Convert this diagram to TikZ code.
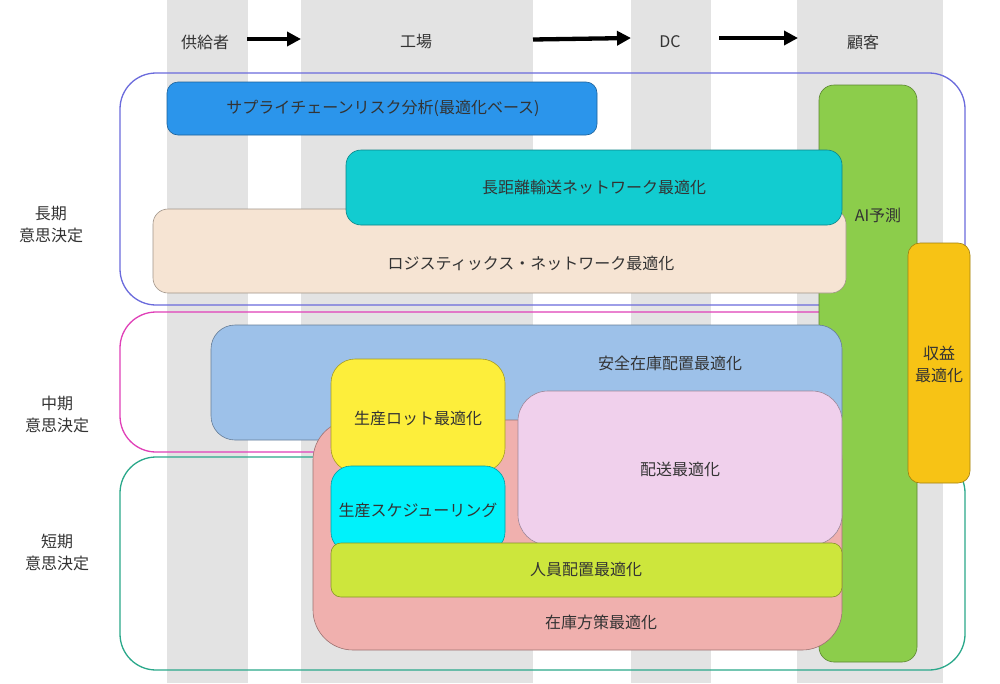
\documentclass[tikz,border=0pt]{standalone}
\usepackage{fontspec}
\setmainfont{Noto Sans CJK JP}
\usetikzlibrary{arrows.meta}
\definecolor{stripegray}{HTML}{E3E3E3}
\definecolor{txt}{HTML}{333333}
\definecolor{longc}{HTML}{6B6BDC}
\definecolor{midc}{HTML}{E040B8}
\definecolor{shortc}{HTML}{2AA88A}
\definecolor{scrisk}{HTML}{2B95EB}
\definecolor{longdist}{HTML}{12CCD0}
\definecolor{beige}{HTML}{F6E4D3}
\definecolor{aigreen}{HTML}{8CCD4B}
\definecolor{profit}{HTML}{F7C315}
\definecolor{safety}{HTML}{9DC1E9}
\definecolor{invpol}{HTML}{F0B0AE}
\definecolor{deliv}{HTML}{F0D0EC}
\definecolor{lot}{HTML}{FDEE3B}
\definecolor{sched}{HTML}{00F2FB}
\definecolor{staff}{HTML}{CDE63C}
\tikzset{
  stripe/.style={fill=stripegray, draw=none},
  region/.style={draw=#1, line width=1.3pt, rounded corners=36pt, fill=none, inner sep=0pt},
  box/.style={fill=#1, draw=#1!65!black, line width=0.6pt, inner sep=0pt},
  lbl/.style={text=txt, font=\fontsize{16}{22}\selectfont, inner sep=0pt, align=center},
  flow/.style={line width=4.3pt, -{Triangle[length=14pt,width=14pt]}},
}
\begin{document}
\begin{tikzpicture}[x=1pt,y=-1pt]
\useasboundingbox (0,0) rectangle (1000,683);
\fill[white] (0,0) rectangle (1000,683);
% column stripes
\fill[stripe] (167,0) rectangle (248,683);
\fill[stripe] (301,0) rectangle (533,683);
\fill[stripe] (631,0) rectangle (711,683);
\fill[stripe] (797,0) rectangle (943,683);
% header
\node[lbl] (sup) at (205,42) {供給者};
\node[lbl] (fac) at (416,42) {工場};
\node[lbl] (dc) at (670,42) {DC};
\node[lbl] (cus) at (863,42) {顧客};
\coordinate (a1s) at (247,39);
\coordinate (a1e) at (301,39);
\coordinate (a2s) at (533,39.5);
\coordinate (a2e) at (631,38);
\coordinate (a3s) at (719,38);
\coordinate (a3e) at (798,38);
\draw[flow] (a1s) -- (a1e);
\draw[flow] (a2s) -- (a2e);
\draw[flow] (a3s) -- (a3e);
% side labels
\node[lbl] (lt) at (51,225) {長期\\意思決定};
\node[lbl] (mt) at (57,414) {中期\\意思決定};
\node[lbl] (st) at (57,552) {短期\\意思決定};
% regions
\node[region=longc, minimum width=845pt, minimum height=232pt] (rlong) at (542.5,189) {};
\node[region=midc, minimum width=795pt, minimum height=140pt] (rmid) at (517.5,382) {};
\node[region=shortc, minimum width=845pt, minimum height=213pt] (rshort) at (542.5,563.5) {};
% boxes
\node[box=scrisk, rounded corners=11pt, minimum width=430pt, minimum height=53pt] (sc) at (382,108.5) {};
\node[lbl] (sct) at (383,108) {サプライチェーンリスク分析(最適化ベース)};
\node[box=aigreen, rounded corners=15pt, minimum width=98pt, minimum height=577pt] (ai) at (868,373.5) {};
\node[lbl] (ait) at (878,215) {AI予測};
\node[box=profit, rounded corners=12pt, minimum width=62pt, minimum height=240pt] (pr) at (939,363) {};
\node[lbl] (prt) at (939,364) {収益\\最適化};
\node[box=beige, rounded corners=15pt, minimum width=693pt, minimum height=84pt] (ln) at (499.5,251) {};
\node[lbl] (lnt) at (531,263) {ロジスティックス・ネットワーク最適化};
\node[box=longdist, rounded corners=15pt, minimum width=496pt, minimum height=75pt] (ld) at (594,187.5) {};
\node[lbl] (ldt) at (594,187) {長距離輸送ネットワーク最適化};
\node[box=safety, rounded corners=24pt, minimum width=631pt, minimum height=115pt] (ss) at (526.5,382.5) {};
\node[lbl] (sst) at (670,363) {安全在庫配置最適化};
\node[box=invpol, rounded corners=40pt, minimum width=529pt, minimum height=230pt] (ip) at (577.5,535) {};
\node[lbl] (ipt) at (601,622) {在庫方策最適化};
\node[box=deliv, rounded corners=30pt, minimum width=324pt, minimum height=154pt] (dv) at (680,468) {};
\node[lbl] (dvt) at (680,469) {配送最適化};
\node[box=lot, rounded corners=24pt, minimum width=174pt, minimum height=113pt] (lo) at (418,415.5) {};
\node[lbl] (lot) at (418,418) {生産ロット最適化};
\node[box=sched, rounded corners=20pt, minimum width=174pt, minimum height=86pt] (sh) at (418,509) {};
\node[lbl] (sht) at (418,510) {生産スケジューリング};
\node[box=staff, rounded corners=10pt, minimum width=511pt, minimum height=54pt] (sf) at (586.5,570) {};
\node[lbl] (sft) at (586,569) {人員配置最適化};
\end{tikzpicture}
\end{document}
